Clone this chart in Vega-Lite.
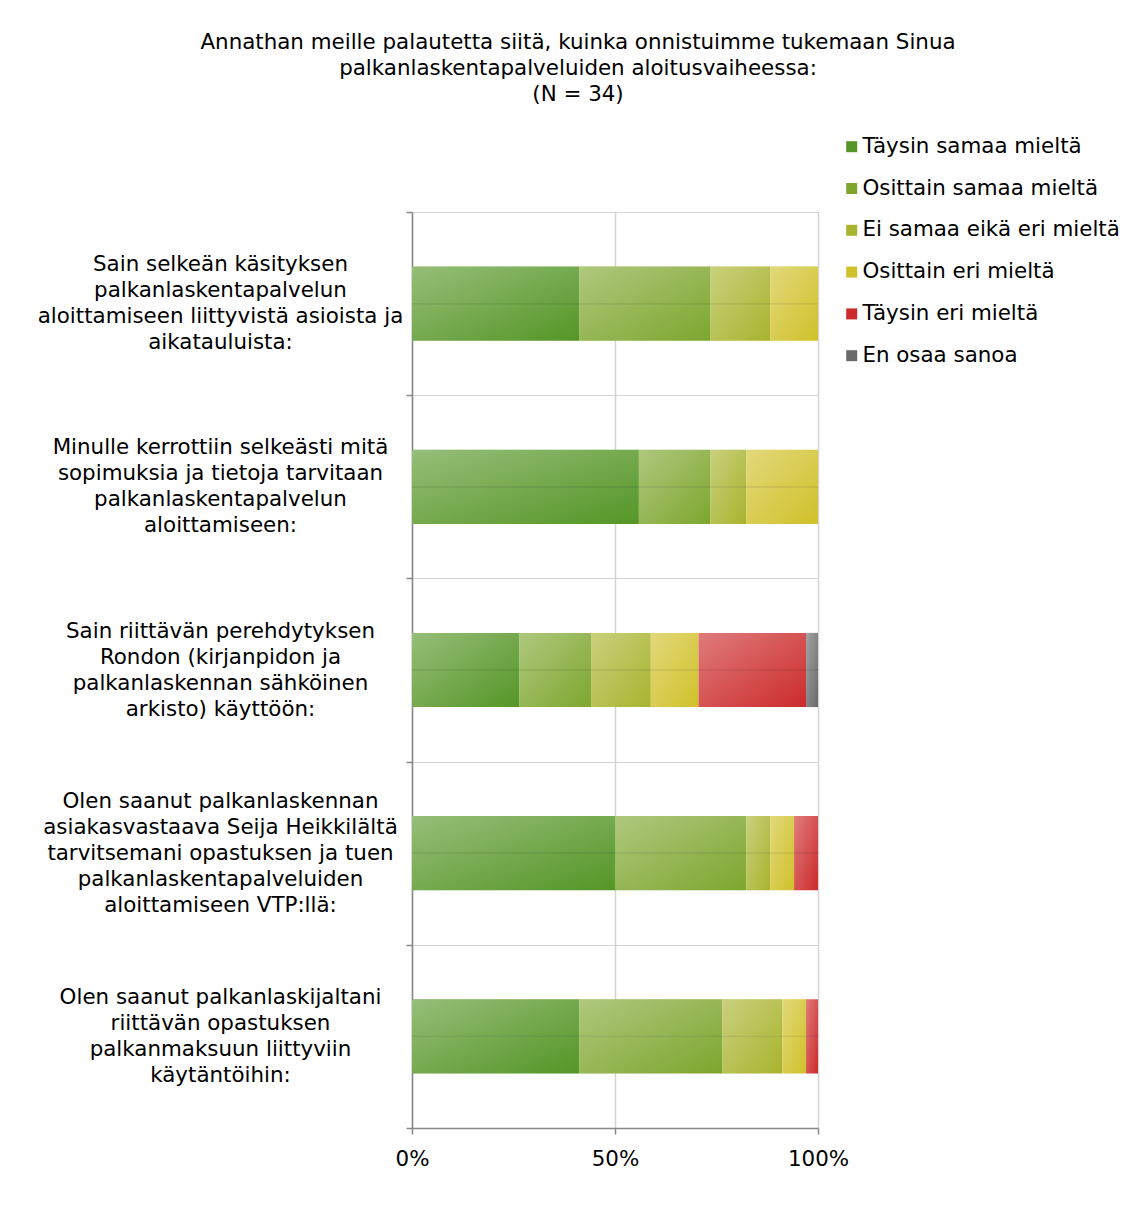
{
  "$schema": "https://vega.github.io/schema/vega-lite/v6.json",
  "autosize": {"type": "none"},
  "width": 406,
  "height": 916,
  "padding": {"left": 412, "top": 212, "right": 329, "bottom": 77},
  "background": "white",
  "config": {
    "view": {"stroke": null},
    "font": "DejaVu Sans"
  },
  "title": {
    "text": ["Annathan meille palautetta siitä, kuinka onnistuimme tukemaan Sinua", "palkanlaskentapalveluiden aloitusvaiheessa:", "(N = 34)"],
    "fontSize": 21.4,
    "fontWeight": "normal",
    "font": "DejaVu Sans",
    "color": "#000000",
    "lineHeight": 26,
    "anchor": "middle",
    "frame": "group",
    "dx": -37,
    "offset": 31
  },
  "data": {
    "values": [
      {"q": "Sain selkeän käsityksen|palkanlaskentapalvelun|aloittamiseen liittyvistä asioista ja|aikatauluista:", "resp": "Täysin samaa mieltä", "code": 1, "n": 14},
      {"q": "Sain selkeän käsityksen|palkanlaskentapalvelun|aloittamiseen liittyvistä asioista ja|aikatauluista:", "resp": "Osittain samaa mieltä", "code": 2, "n": 11},
      {"q": "Sain selkeän käsityksen|palkanlaskentapalvelun|aloittamiseen liittyvistä asioista ja|aikatauluista:", "resp": "Ei samaa eikä eri mieltä", "code": 3, "n": 5},
      {"q": "Sain selkeän käsityksen|palkanlaskentapalvelun|aloittamiseen liittyvistä asioista ja|aikatauluista:", "resp": "Osittain eri mieltä", "code": 4, "n": 4},
      {"q": "Minulle kerrottiin selkeästi mitä|sopimuksia ja tietoja tarvitaan|palkanlaskentapalvelun|aloittamiseen:", "resp": "Täysin samaa mieltä", "code": 1, "n": 19},
      {"q": "Minulle kerrottiin selkeästi mitä|sopimuksia ja tietoja tarvitaan|palkanlaskentapalvelun|aloittamiseen:", "resp": "Osittain samaa mieltä", "code": 2, "n": 6},
      {"q": "Minulle kerrottiin selkeästi mitä|sopimuksia ja tietoja tarvitaan|palkanlaskentapalvelun|aloittamiseen:", "resp": "Ei samaa eikä eri mieltä", "code": 3, "n": 3},
      {"q": "Minulle kerrottiin selkeästi mitä|sopimuksia ja tietoja tarvitaan|palkanlaskentapalvelun|aloittamiseen:", "resp": "Osittain eri mieltä", "code": 4, "n": 6},
      {"q": "Sain riittävän perehdytyksen|Rondon (kirjanpidon ja|palkanlaskennan sähköinen|arkisto) käyttöön:", "resp": "Täysin samaa mieltä", "code": 1, "n": 9},
      {"q": "Sain riittävän perehdytyksen|Rondon (kirjanpidon ja|palkanlaskennan sähköinen|arkisto) käyttöön:", "resp": "Osittain samaa mieltä", "code": 2, "n": 6},
      {"q": "Sain riittävän perehdytyksen|Rondon (kirjanpidon ja|palkanlaskennan sähköinen|arkisto) käyttöön:", "resp": "Ei samaa eikä eri mieltä", "code": 3, "n": 5},
      {"q": "Sain riittävän perehdytyksen|Rondon (kirjanpidon ja|palkanlaskennan sähköinen|arkisto) käyttöön:", "resp": "Osittain eri mieltä", "code": 4, "n": 4},
      {"q": "Sain riittävän perehdytyksen|Rondon (kirjanpidon ja|palkanlaskennan sähköinen|arkisto) käyttöön:", "resp": "Täysin eri mieltä", "code": 5, "n": 9},
      {"q": "Sain riittävän perehdytyksen|Rondon (kirjanpidon ja|palkanlaskennan sähköinen|arkisto) käyttöön:", "resp": "En osaa sanoa", "code": 6, "n": 1},
      {"q": "Olen saanut palkanlaskennan|asiakasvastaava Seija Heikkilältä|tarvitsemani opastuksen ja tuen|palkanlaskentapalveluiden|aloittamiseen VTP:llä:", "resp": "Täysin samaa mieltä", "code": 1, "n": 17},
      {"q": "Olen saanut palkanlaskennan|asiakasvastaava Seija Heikkilältä|tarvitsemani opastuksen ja tuen|palkanlaskentapalveluiden|aloittamiseen VTP:llä:", "resp": "Osittain samaa mieltä", "code": 2, "n": 11},
      {"q": "Olen saanut palkanlaskennan|asiakasvastaava Seija Heikkilältä|tarvitsemani opastuksen ja tuen|palkanlaskentapalveluiden|aloittamiseen VTP:llä:", "resp": "Ei samaa eikä eri mieltä", "code": 3, "n": 2},
      {"q": "Olen saanut palkanlaskennan|asiakasvastaava Seija Heikkilältä|tarvitsemani opastuksen ja tuen|palkanlaskentapalveluiden|aloittamiseen VTP:llä:", "resp": "Osittain eri mieltä", "code": 4, "n": 2},
      {"q": "Olen saanut palkanlaskennan|asiakasvastaava Seija Heikkilältä|tarvitsemani opastuksen ja tuen|palkanlaskentapalveluiden|aloittamiseen VTP:llä:", "resp": "Täysin eri mieltä", "code": 5, "n": 2},
      {"q": "Olen saanut palkanlaskijaltani|riittävän opastuksen|palkanmaksuun liittyviin|käytäntöihin:", "resp": "Täysin samaa mieltä", "code": 1, "n": 14},
      {"q": "Olen saanut palkanlaskijaltani|riittävän opastuksen|palkanmaksuun liittyviin|käytäntöihin:", "resp": "Osittain samaa mieltä", "code": 2, "n": 12},
      {"q": "Olen saanut palkanlaskijaltani|riittävän opastuksen|palkanmaksuun liittyviin|käytäntöihin:", "resp": "Ei samaa eikä eri mieltä", "code": 3, "n": 5},
      {"q": "Olen saanut palkanlaskijaltani|riittävän opastuksen|palkanmaksuun liittyviin|käytäntöihin:", "resp": "Osittain eri mieltä", "code": 4, "n": 2},
      {"q": "Olen saanut palkanlaskijaltani|riittävän opastuksen|palkanmaksuun liittyviin|käytäntöihin:", "resp": "Täysin eri mieltä", "code": 5, "n": 1}
    ]
  },
  "encoding": {
    "y": {
      "field": "q",
      "type": "nominal",
      "sort": null,
      "scale": {"paddingInner": 0, "paddingOuter": 0},
      "axis": {
        "title": null,
        "labelExpr": "split(datum.label, '|')",
        "labelAlign": "center",
        "labelBaseline": "middle",
        "labelFontSize": 21.4,
        "labelFont": "DejaVu Sans",
        "labelColor": "#000000",
        "labelLineHeight": 26,
        "labelLimit": 0,
        "labelPadding": 186,
        "labelOffset": {
          "condition": {"test": "length(split(datum.value, '|')) == 5", "value": -52},
          "value": -39
        },
        "tickBand": "extent",
        "tickSize": 6,
        "tickColor": "#888888",
        "tickWidth": 1.5,
        "domainColor": "#888888",
        "domainWidth": 1.5,
        "grid": true,
        "gridColor": "#d4d4d4",
        "gridWidth": 1.2
      }
    },
    "x": {
      "field": "n",
      "type": "quantitative",
      "stack": "normalize",
      "scale": {"domain": [0, 1]},
      "axis": {
        "title": null,
        "values": [0, 0.5, 1],
        "format": "%",
        "labelFlush": false,
        "labelFontSize": 21.4,
        "labelFont": "DejaVu Sans",
        "labelColor": "#000000",
        "labelPadding": 14,
        "tickSize": 6,
        "tickColor": "#888888",
        "tickWidth": 1.5,
        "domainColor": "#888888",
        "domainWidth": 1.5,
        "grid": true,
        "gridColor": "#d4d4d4",
        "gridWidth": 1.5
      }
    },
    "order": {"field": "code", "type": "quantitative", "sort": "ascending"}
  },
  "layer": [
    {
      "mark": {"type": "bar", "height": {"band": 0.405}},
      "encoding": {
        "color": {
          "field": "resp",
          "type": "nominal",
          "sort": ["Täysin samaa mieltä", "Osittain samaa mieltä", "Ei samaa eikä eri mieltä", "Osittain eri mieltä", "Täysin eri mieltä", "En osaa sanoa"],
          "scale": {
            "domain": ["Täysin samaa mieltä", "Osittain samaa mieltä", "Ei samaa eikä eri mieltä", "Osittain eri mieltä", "Täysin eri mieltä", "En osaa sanoa"],
            "range": ["#559626", "#7ea62e", "#a8b42e", "#d0c12a", "#cc2b2b", "#6a6a6a"]
          },
          "legend": {
            "title": null,
            "orient": "none",
            "legendX": 429,
            "legendY": -76,
            "symbolType": "square",
            "symbolSize": 121,
            "symbolStrokeWidth": 0,
            "labelFontSize": 21.4,
            "labelFont": "DejaVu Sans",
            "labelColor": "#000000",
            "labelOffset": 0,
            "labelLimit": 0,
            "rowPadding": 18.8
          }
        }
      }
    },
    {
      "mark": {
        "type": "bar",
        "height": {"band": 0.405},
        "fill": {
          "gradient": "linear",
          "x1": 0, "y1": 0, "x2": 1, "y2": 1,
          "stops": [
            {"offset": 0, "color": "rgba(255,255,255,0.38)"},
            {"offset": 1, "color": "rgba(255,255,255,0)"}
          ]
        }
      },
      "encoding": {"detail": {"field": "resp", "type": "nominal"}}
    },
    {
      "mark": {
        "type": "bar",
        "height": {"band": 0.405},
        "fill": {
          "gradient": "linear",
          "x1": 0, "y1": 0, "x2": 0, "y2": 1,
          "stops": [
            {"offset": 0, "color": "rgba(0,0,0,0)"},
            {"offset": 0.485, "color": "rgba(0,0,0,0)"},
            {"offset": 0.49, "color": "rgba(0,0,0,0.07)"},
            {"offset": 0.51, "color": "rgba(0,0,0,0.07)"},
            {"offset": 0.515, "color": "rgba(0,0,0,0)"},
            {"offset": 1, "color": "rgba(0,0,0,0)"}
          ]
        }
      },
      "encoding": {"detail": {"field": "resp", "type": "nominal"}}
    }
  ]
}
